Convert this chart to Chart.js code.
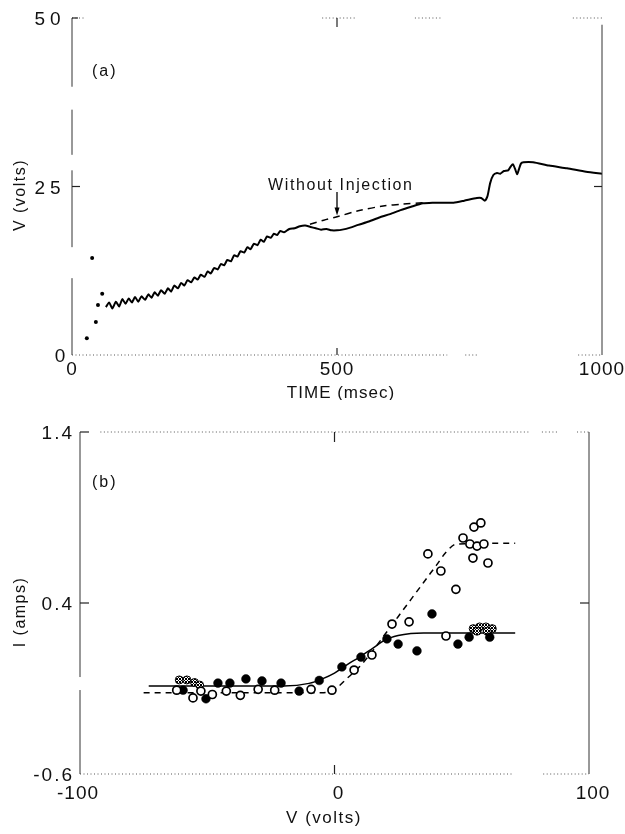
<!DOCTYPE html>
<html>
<head>
<meta charset="utf-8">
<script src="https://cdn.jsdelivr.net/npm/chart.js@4.4.0/dist/chart.umd.min.js"></script>
<style>
  body { margin: 0; background: #fff; }
  #wrap { position: relative; width: 625px; height: 834px; }
  canvas { position: absolute; left: 0; }
  #chartA { top: 0; }
  #chartB { top: 400px; }
</style>
</head>
<body>
<div id="wrap">
  <canvas id="chartA" width="625" height="400"></canvas>
  <canvas id="chartB" width="625" height="434"></canvas>
</div>
<script>
// ---- panel (a): voltage vs time ----
var traceTime = [64, 70, 76, 83, 89, 95, 101, 107, 113, 119, 125, 131, 138, 144, 150, 156, 162, 168, 175, 181,
  187, 193, 200, 206, 212, 218, 225, 231, 237, 243, 250, 256, 262, 268, 275, 281, 287, 293, 300, 306,
  312, 318, 325, 331, 337, 343, 350, 356, 362, 368, 375, 381, 387, 393, 400, 410, 420, 430, 440, 450,
  460, 470, 480, 490, 500, 510, 525, 540, 560, 580, 600, 620, 640, 662, 680, 700, 720, 740, 764, 772,
  779, 784, 789, 795, 802, 808, 815, 823, 828, 832, 836, 840, 843, 847, 852, 870, 900, 934, 970, 1000];
var traceVolts = [7.1, 7.8, 6.9, 7.9, 7.2, 8.3, 7.6, 8.4, 7.8, 8.6, 7.9, 8.7, 8.2, 9.0, 8.5, 9.3, 8.8, 9.6, 9.1, 9.9,
  9.4, 10.3, 9.9, 10.7, 10.3, 11.1, 10.8, 11.5, 11.2, 11.9, 11.6, 12.4, 12.1, 12.9, 12.7, 13.5, 13.3, 14.1, 13.9, 14.8,
  14.6, 15.4, 15.2, 16.0, 15.7, 16.5, 16.3, 17.1, 16.8, 17.6, 17.4, 18.0, 17.8, 18.4, 18.2, 18.7, 18.8, 19.1, 19.2, 19.0,
  18.8, 18.6, 18.7, 18.5, 18.5, 18.6, 18.9, 19.3, 19.8, 20.4, 20.9, 21.5, 22.0, 22.5, 22.6, 22.6, 22.6, 22.9, 23.3, 23.3,
  22.9, 23.6, 25.5, 26.7, 27.0, 26.9, 27.3, 27.4, 28.0, 28.3, 27.6, 26.8, 27.5, 28.4, 28.6, 28.6, 28.1, 27.7, 27.2, 26.9];
var noInjTime = [449, 475, 500, 540, 587, 625, 662];
var noInjVolts = [19.4, 20.0, 20.5, 21.4, 22.1, 22.4, 22.6];
var earlyTime = [28, 45, 49, 57, 38];
var earlyVolts = [2.5, 4.9, 7.4, 9.1, 14.4];
var timeTicks = [0, 500, 1000];
var voltTicks = [0, 25, 50];

// ---- panel (b): current vs voltage ----
var openV = [-62, -55.6, -52.5, -48, -42.5, -37, -30, -23.5, -9.2, -1, 7.7, 14.7, 22.6, 29.3, 36.7, 41.8, 43.8,
  47.7, 50.5, 53.2, 54.4, 54.8, 56, 57.5, 58.7, 60.3];
var openI = [-0.11, -0.155, -0.115, -0.135, -0.115, -0.14, -0.105, -0.11, -0.105, -0.11, 0.008, 0.096, 0.277,
  0.29, 0.687, 0.587, 0.207, 0.48, 0.78, 0.745, 0.663, 0.844, 0.733, 0.868, 0.745, 0.634];
var filledV = [-59.5, -50.5, -45.8, -41.1, -34.8, -28.5, -21, -13.9, -6, 2.9, 10.4, 20.6, 25, 32.4, 38.3, 48.5, 52.9, 61];
var filledI = [-0.11, -0.16, -0.068, -0.068, -0.044, -0.056, -0.068, -0.115, -0.053, 0.026, 0.084, 0.19, 0.16,
  0.12, 0.336, 0.16, 0.2, 0.2];
var hatchV = [-61, -58, -55, -53, 54.5, 57, 59.5, 62, 56, 60];
var hatchI = [-0.05, -0.05, -0.065, -0.08, 0.25, 0.26, 0.26, 0.25, 0.235, 0.235];
var solidFitV = [-73, -20, -10, -5, 0, 5, 10, 15, 20, 25, 30, 35, 71];
var solidFitI = [-0.085, -0.085, -0.07, -0.045, -0.01, 0.04, 0.085, 0.135, 0.185, 0.21, 0.222, 0.225, 0.225];
var dashFitV = [-75, -5, 0, 5, 10, 15, 20, 25, 30, 35, 40, 44, 48, 71];
var dashFitI = [-0.125, -0.125, -0.105, -0.04, 0.03, 0.12, 0.22, 0.32, 0.42, 0.52, 0.62, 0.70, 0.745, 0.75];
var vTicks = [-100, 0, 100];
var iTicks = [-0.6, 0.4, 1.4];

var FONT = '"Liberation Sans", "DejaVu Sans", sans-serif';
var INK = '#111';

function pairs(xs, ys) {
  return xs.map(function (x, i) { return { x: x, y: ys[i] }; });
}

// small checker tile for the cross-hatched symbols
function hatchPattern() {
  var c = document.createElement('canvas');
  c.width = 3; c.height = 3;
  var g = c.getContext('2d');
  g.fillStyle = '#fff';
  g.fillRect(0, 0, 3, 3);
  g.fillStyle = '#000';
  g.fillRect(0, 0, 1, 1);
  g.fillRect(2, 0, 1, 1);
  g.fillRect(1, 1, 1, 1);
  g.fillRect(0, 2, 1, 1);
  g.fillRect(2, 2, 1, 1);
  return c.getContext('2d').createPattern(c, 'repeat');
}

function segH(ctx, sx, y, a, b, dotted) {
  ctx.save();
  ctx.beginPath();
  ctx.strokeStyle = dotted ? '#555' : '#333';
  ctx.lineWidth = 1;
  if (dotted) ctx.setLineDash([1, 2.5]);
  ctx.moveTo(sx.getPixelForValue(a), y);
  ctx.lineTo(sx.getPixelForValue(b), y);
  ctx.stroke();
  ctx.restore();
}

function segV(ctx, sy, x, a, b, dotted) {
  ctx.save();
  ctx.beginPath();
  ctx.strokeStyle = dotted ? '#555' : '#333';
  ctx.lineWidth = 1;
  if (dotted) ctx.setLineDash([1, 2.5]);
  ctx.moveTo(x, sy.getPixelForValue(a));
  ctx.lineTo(x, sy.getPixelForValue(b));
  ctx.stroke();
  ctx.restore();
}

function label(ctx, txt, x, y, size, align, spacing) {
  ctx.save();
  ctx.font = size + 'px ' + FONT;
  ctx.fillStyle = INK;
  ctx.textAlign = align || 'center';
  ctx.textBaseline = 'middle';
  ctx.letterSpacing = (spacing || 0) + 'px';
  ctx.fillText(txt, x, y);
  ctx.restore();
}

function tick(ctx, x1, y1, x2, y2) {
  ctx.save();
  ctx.beginPath();
  ctx.strokeStyle = '#222';
  ctx.lineWidth = 1.2;
  ctx.moveTo(x1, y1);
  ctx.lineTo(x2, y2);
  ctx.stroke();
  ctx.restore();
}

var frameA = {
  id: 'frameA',
  afterDraw: function (chart) {
    var ctx = chart.ctx, sx = chart.scales.x, sy = chart.scales.y, a = chart.chartArea;
    // broken frame
    [[0, 25], [472, 534], [647, 698], [945, 1000]].forEach(function (s) { segH(ctx, sx, a.top, s[0], s[1], true); });
    [[0, 708], [742, 764], [955, 1000]].forEach(function (s) { segH(ctx, sx, a.bottom, s[0], s[1], true); });
    [[50, 39.8], [36.4, 29.7], [27.4, 16.0], [11.4, 0]].forEach(function (s) { segV(ctx, sy, a.left, s[0], s[1], false); });
    segV(ctx, sy, a.right, 49, 0, false);

    var y25 = sy.getPixelForValue(25), x500 = sx.getPixelForValue(500);
    tick(ctx, a.left, y25, a.left + 8, y25);
    tick(ctx, a.left, a.top, a.left + 6, a.top);
    tick(ctx, a.right, y25, a.right - 8, y25);
    tick(ctx, x500, a.top, x500, a.top + 9);
    tick(ctx, x500, a.bottom, x500, a.bottom - 7);

    voltTicks.forEach(function (v) {
      label(ctx, String(v), v === 0 ? a.left - 12 : a.left - 22, sy.getPixelForValue(v) + 2, 19, 'center', v === 0 ? 0 : 5);
    });
    timeTicks.forEach(function (t) {
      label(ctx, String(t), sx.getPixelForValue(t), a.bottom + 15, 19, 'center', 1);
    });
    label(ctx, 'TIME (msec)', (a.left + a.right) / 2 + 4, a.bottom + 38, 17, 'center', 1);

    ctx.save();
    ctx.translate(21, 195);
    ctx.rotate(-Math.PI / 2);
    label(ctx, 'V (volts)', 0, 0, 16, 'center', 1.5);
    ctx.restore();

    label(ctx, '(a)', a.left + 20, 72, 16, 'left', 2);
    label(ctx, 'Without Injection', sx.getPixelForValue(370), sy.getPixelForValue(25.1), 16, 'left', 1.6);

    // arrow to the dashed curve
    var top = sy.getPixelForValue(24.2), tip = sy.getPixelForValue(20.7);
    ctx.save();
    ctx.strokeStyle = '#000';
    ctx.fillStyle = '#000';
    ctx.lineWidth = 1.3;
    ctx.beginPath();
    ctx.moveTo(x500, top);
    ctx.lineTo(x500, tip - 5);
    ctx.stroke();
    ctx.beginPath();
    ctx.moveTo(x500 - 2.5, tip - 8);
    ctx.lineTo(x500 + 2.5, tip - 8);
    ctx.lineTo(x500, tip);
    ctx.closePath();
    ctx.fill();
    ctx.restore();
  }
};

var frameB = {
  id: 'frameB',
  afterDraw: function (chart) {
    var ctx = chart.ctx, sx = chart.scales.x, sy = chart.scales.y, a = chart.chartArea;
    [[-92, 77], [81.5, 87.4], [95.3, 100]].forEach(function (s) { segH(ctx, sx, a.top, s[0], s[1], true); });
    [[-100, 70], [82, 100]].forEach(function (s) { segH(ctx, sx, a.bottom, s[0], s[1], true); });
    [[1.4, -0.033], [-0.109, -0.6]].forEach(function (s) { segV(ctx, sy, a.left, s[0], s[1], false); });
    segV(ctx, sy, a.right, 1.4, -0.6, false);

    var y04 = sy.getPixelForValue(0.4), x0 = sx.getPixelForValue(0);
    tick(ctx, a.left, a.top, a.left + 9, a.top);
    tick(ctx, a.left, y04, a.left + 9, y04);
    tick(ctx, a.right, y04, a.right - 9, y04);
    tick(ctx, x0, a.top, x0, a.top + 10);
    tick(ctx, x0, a.bottom, x0, a.bottom - 9);

    iTicks.forEach(function (v) {
      label(ctx, String(v), a.left - 6, sy.getPixelForValue(v) + 2, 19, 'right', 2);
    });
    vTicks.forEach(function (v) {
      label(ctx, String(v), sx.getPixelForValue(v) + (v === -100 ? -2 : 4), a.bottom + 20, 19, 'center', 1);
    });
    label(ctx, 'V (volts)', 324, a.bottom + 44, 17, 'center', 1.5);

    ctx.save();
    ctx.translate(21, 212);
    ctx.rotate(-Math.PI / 2);
    label(ctx, 'I (amps)', 0, 0, 16, 'center', 1.5);
    ctx.restore();

    label(ctx, '(b)', a.left + 12, 83, 16, 'left', 2);
  }
};

var baseOpts = function (xmin, xmax, ymin, ymax, pad) {
  return {
    responsive: false,
    animation: false,
    events: [],
    layout: { padding: pad },
    plugins: { legend: { display: false }, tooltip: { enabled: false } },
    scales: {
      x: { type: 'linear', min: xmin, max: xmax, display: false },
      y: { type: 'linear', min: ymin, max: ymax, display: false }
    }
  };
};

new Chart(document.getElementById('chartA'), {
  type: 'scatter',
  data: {
    datasets: [
      {
        data: pairs(traceTime, traceVolts),
        showLine: true,
        borderColor: '#000',
        borderWidth: 2,
        pointRadius: 0,
        tension: 0.2,
        order: 2
      },
      {
        data: pairs(noInjTime, noInjVolts),
        showLine: true,
        borderColor: '#000',
        borderWidth: 1.5,
        borderDash: [7, 5],
        pointRadius: 0,
        tension: 0.3,
        order: 2
      },
      {
        data: pairs(earlyTime, earlyVolts),
        showLine: false,
        pointRadius: 2,
        backgroundColor: '#000',
        borderWidth: 0,
        order: 1
      }
    ]
  },
  options: baseOpts(0, 1000, 0, 50, { left: 72, right: 23, top: 18, bottom: 45 }),
  plugins: [frameA]
});

var hatch = hatchPattern();

new Chart(document.getElementById('chartB'), {
  type: 'scatter',
  data: {
    datasets: [
      {
        data: pairs(solidFitV, solidFitI),
        showLine: true,
        borderColor: '#000',
        borderWidth: 1.5,
        pointRadius: 0,
        cubicInterpolationMode: 'monotone',
        order: 3
      },
      {
        data: pairs(dashFitV, dashFitI),
        showLine: true,
        borderColor: '#000',
        borderWidth: 1.5,
        borderDash: [6, 5],
        pointRadius: 0,
        cubicInterpolationMode: 'monotone',
        order: 3
      },
      {
        data: pairs(hatchV, hatchI),
        pointRadius: 4,
        backgroundColor: hatch,
        borderColor: '#000',
        borderWidth: 1,
        order: 2
      },
      {
        data: pairs(openV, openI),
        pointRadius: 4,
        backgroundColor: '#fff',
        borderColor: '#000',
        borderWidth: 1.7,
        order: 1
      },
      {
        data: pairs(filledV, filledI),
        pointRadius: 4.4,
        backgroundColor: '#000',
        borderColor: '#000',
        borderWidth: 0.5,
        order: 1
      }
    ]
  },
  options: baseOpts(-100, 100, -0.6, 1.4, { left: 80, right: 36, top: 32, bottom: 60 }),
  plugins: [frameB]
});
</script>
</body>
</html>
